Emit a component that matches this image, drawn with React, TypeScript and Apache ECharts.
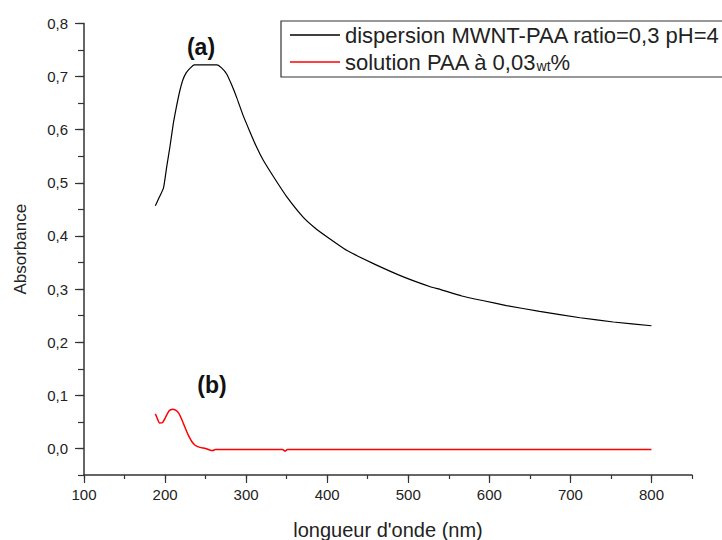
import React, { useEffect, useRef } from "react";
import * as echarts from "echarts";

const xCurveA = [188, 192, 198, 202, 206, 210, 214, 218, 222, 226, 231, 236, 245, 255, 264, 270, 276, 282, 288.5, 296, 305, 313, 321, 334, 350, 370, 385, 400, 424, 457, 494, 528, 540, 566, 593, 621, 662, 712, 753, 800];
const yCurveA = [0.457, 0.47, 0.49, 0.53, 0.568, 0.61, 0.643, 0.672, 0.694, 0.707, 0.716, 0.722, 0.722, 0.722, 0.722, 0.716, 0.705, 0.685, 0.66, 0.628, 0.595, 0.567, 0.543, 0.511, 0.474, 0.436, 0.415, 0.398, 0.373, 0.348, 0.323, 0.304, 0.299, 0.287, 0.278, 0.269, 0.258, 0.246, 0.238, 0.231];

const xCurveB = [188, 190, 193, 197, 201, 205, 209, 213, 217, 221, 225, 229, 233, 237, 243, 250, 255, 259, 262, 270, 300, 345, 348, 351, 400, 500, 600, 700, 800];
const yCurveB = [0.065, 0.058, 0.048, 0.049, 0.06, 0.071, 0.074, 0.072, 0.066, 0.053, 0.038, 0.024, 0.013, 0.006, 0.002, 0.0, -0.003, -0.004, -0.002, -0.002, -0.002, -0.002, -0.005, -0.002, -0.002, -0.002, -0.002, -0.002, -0.002];

const seriesNames = ["dispersion MWNT-PAA ratio=0,3 pH=4", "solution PAA à 0,03wt%"];
const xMajorTicks = [100, 200, 300, 400, 500, 600, 700, 800];
const yMajorTicks = [0, 0.1, 0.2, 0.3, 0.4, 0.5, 0.6, 0.7, 0.8];

const FONT = "'Liberation Sans', Arial, sans-serif";
const AXIS_COLOR = "#333";

export default function App() {
  const ref = useRef<HTMLDivElement>(null);
  useEffect(() => {
    if (!ref.current) return;
    const chart = echarts.init(ref.current, null, { renderer: "svg" });
    const dataA = xCurveA.map((x, i) => [x, yCurveA[i]]);
    const dataB = xCurveB.map((x, i) => [x, yCurveB[i]]);
    const grid = { left: 84, right: 30, top: 23.5, bottom: 65, outerBoundsMode: "none" };
    const axisLine = { show: true, onZero: false, lineStyle: { color: AXIS_COLOR, width: 1.5 } };
    chart.setOption({
      animation: false,
      backgroundColor: "#ffffff",
      grid,
      legend: {
        left: 281,
        top: 21,
        orient: "vertical",
        borderColor: "#333",
        borderWidth: 1.2,
        padding: [3, 6, 4, 9],
        itemGap: 5,
        itemWidth: 50,
        itemHeight: 1.5,
        icon: "rect",
        data: seriesNames,
        formatter: (name: string) =>
          name === seriesNames[1]
            ? "{n|solution PAA à 0,03}{s|wt}{n|%}"
            : "{n|" + name + "}",
        textStyle: {
          fontFamily: FONT,
          color: "#222",
          rich: {
            n: { fontSize: 22, lineHeight: 22, fontFamily: FONT, color: "#222" },
            s: { fontSize: 14, fontFamily: FONT, color: "#222", verticalAlign: "bottom" },
          },
        },
      },
      xAxis: [
        {
          type: "value",
          min: 100,
          max: 850,
          interval: 50,
          axisLine,
          axisTick: { show: true, length: 4, lineStyle: { color: AXIS_COLOR, width: 1.2 } },
          splitLine: { show: false },
          axisLabel: {
            margin: 12,
            fontSize: 15,
            fontFamily: FONT,
            color: "#222",
            formatter: (v: number) => (Math.round(v) % 100 === 0 && v <= 800 ? String(v) : ""),
          },
          name: "longueur d'onde (nm)",
          nameLocation: "middle",
          nameGap: 45,
          nameTextStyle: { fontSize: 20, fontFamily: FONT, color: "#222", verticalAlign: "top" },
        },
        {
          type: "value",
          min: 100,
          max: 850,
          position: "bottom",
          axisLine: { show: false, onZero: false },
          axisTick: { show: true, length: 8, customValues: xMajorTicks, lineStyle: { color: AXIS_COLOR, width: 1.2 } },
          axisLabel: { show: false },
          splitLine: { show: false },
        },
      ],
      yAxis: [
        {
          type: "value",
          min: -0.05,
          max: 0.8,
          interval: 0.05,
          axisLine,
          axisTick: { show: true, length: 6, lineStyle: { color: AXIS_COLOR, width: 1.2 } },
          splitLine: { show: false },
          axisLabel: {
            margin: 16,
            fontSize: 15,
            fontFamily: FONT,
            color: "#222",
            formatter: (v: number) => {
              const k = Math.round(v * 100);
              return k % 10 === 0 ? (k / 100).toFixed(1).replace(".", ",") : "";
            },
          },
          name: "Absorbance",
          nameLocation: "middle",
          nameGap: 55,
          nameTextStyle: { fontSize: 17, fontFamily: FONT, color: "#222" },
        },
        {
          type: "value",
          min: -0.05,
          max: 0.8,
          position: "left",
          axisLine: { show: false, onZero: false },
          axisTick: { show: true, length: 9, customValues: yMajorTicks, lineStyle: { color: AXIS_COLOR, width: 1.2 } },
          axisLabel: { show: false },
          splitLine: { show: false },
        },
      ],
      series: [
        {
          name: seriesNames[0],
          type: "line",
          data: dataA,
          xAxisIndex: 0,
          yAxisIndex: 0,
          symbol: "none",
          smooth: 0.15,
          color: "#000000",
          lineStyle: { color: "#000000", width: 1.2 },
          itemStyle: { color: "#000000" },
        },
        {
          name: seriesNames[1],
          type: "line",
          data: dataB,
          xAxisIndex: 0,
          yAxisIndex: 0,
          symbol: "none",
          smooth: 0.15,
          color: "#ff0000",
          lineStyle: { color: "#ff0000", width: 1.5 },
          itemStyle: { color: "#ff0000" },
        },
      ],
      graphic: [
        {
          type: "text",
          x: 201,
          y: 47,
          style: { text: "(a)", font: "bold 23px " + FONT, fill: "#111", align: "center", verticalAlign: "middle" },
        },
        {
          type: "text",
          x: 212,
          y: 385,
          style: { text: "(b)", font: "bold 23px " + FONT, fill: "#111", align: "center", verticalAlign: "middle" },
        },
      ],
    });
    return () => chart.dispose();
  }, []);
  return <div ref={ref} style={{ position: "fixed", left: 0, top: 0, width: 722, height: 540 }} />;
}
